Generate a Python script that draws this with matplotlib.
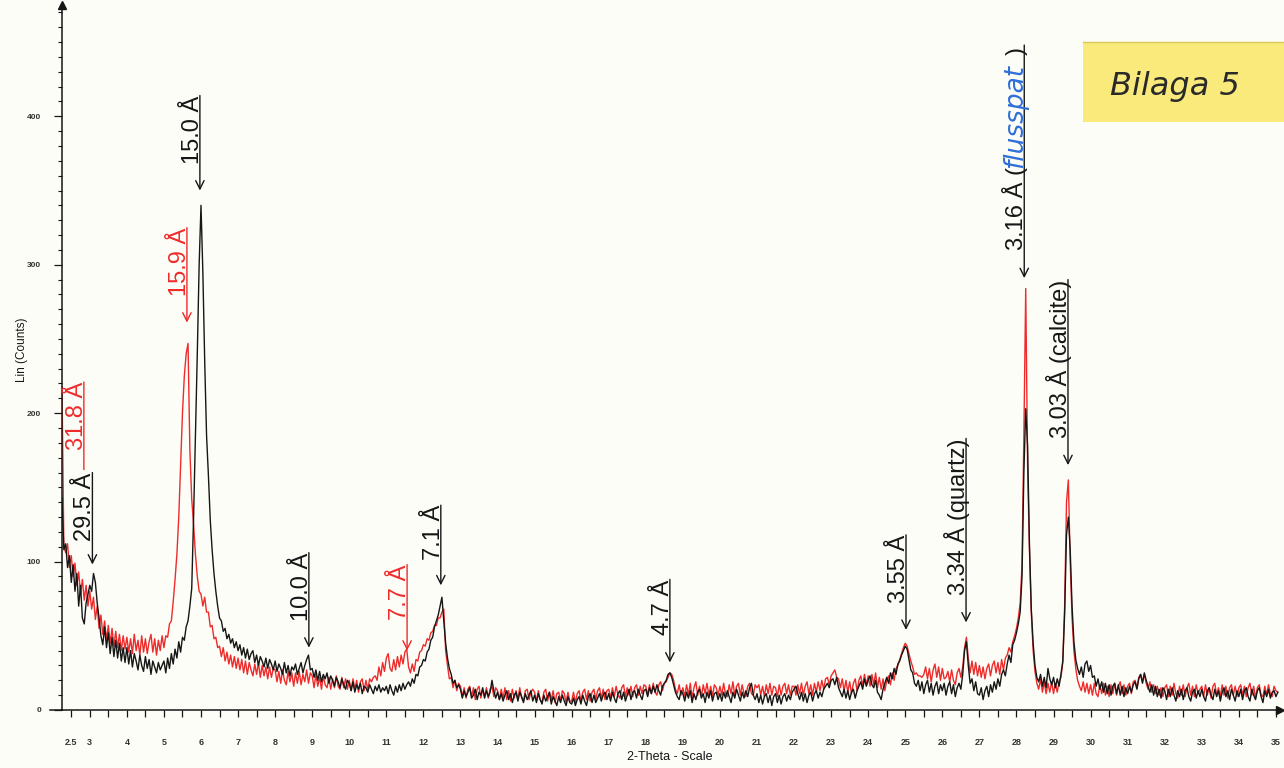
import numpy as np
import matplotlib
matplotlib.use("Agg")
import matplotlib.pyplot as plt
from matplotlib import transforms
from matplotlib.patches import Rectangle
from matplotlib.lines import Line2D
from matplotlib.ticker import FixedLocator

# Step scan: first 2-theta position and step width (degrees)
SCAN_START = 2.25
SCAN_STEP = 0.05

# Intensity (Lin counts), one row per degree of 2-theta
black_counts = [
    143, 108, 112, 96, 104, 86, 98, 80, 92, 70, 84, 62, 58, 72, 78,
    84, 80, 92, 86, 72, 62, 50, 44, 56, 42, 52, 38, 49, 36, 47, 35, 45, 33, 42, 32,
    42, 31, 40, 29, 38, 33, 27, 37, 30, 26, 36, 28, 34, 24, 33, 29, 25, 32, 27, 30,
    33, 25, 35, 28, 38, 31, 41, 35, 46, 39, 49, 47, 56, 60, 70, 82, 130, 185, 240, 300,
    340, 295, 235, 185, 158, 128, 108, 92, 80, 70, 62, 60, 53, 55, 48, 51, 45, 48, 42, 46,
    40, 44, 37, 42, 35, 41, 34, 38, 40, 32, 37, 30, 36, 33, 29, 35, 28, 34, 31, 27,
    33, 26, 31, 28, 24, 32, 25, 30, 23, 29, 27, 31, 24, 28, 32, 25, 30, 34, 37, 27,
    28, 22, 27, 20, 26, 19, 24, 21, 25, 18, 23, 20, 16, 22, 19, 15, 21, 17, 14, 20,
    18, 13, 19, 12, 17, 14, 18, 11, 16, 15, 12, 17, 14, 11, 16, 13, 17, 12, 15, 13,
    16, 11, 17, 13, 10, 16, 12, 17, 13, 18, 14, 17, 19, 16, 21, 18, 24, 23, 29, 30,
    34, 33, 39, 41, 47, 49, 56, 60, 64, 70, 76, 60, 45, 35, 28, 24, 18, 20, 15, 17,
    14, 8, 13, 9, 12, 15, 8, 10, 14, 7, 12, 10, 15, 8, 13, 9, 12, 20, 13, 8,
    12, 7, 11, 6, 10, 13, 7, 11, 5, 10, 12, 6, 12, 9, 5, 11, 7, 10, 13, 6,
    10, 5, 11, 7, 4, 10, 6, 9, 12, 4, 9, 6, 3, 9, 5, 10, 6, 3, 9, 5,
    4, 8, 3, 7, 9, 4, 10, 6, 3, 9, 11, 5, 10, 5, 8, 11, 6, 10, 12, 7,
    11, 6, 12, 8, 5, 11, 13, 7, 12, 6, 10, 14, 7, 12, 13, 8, 14, 10, 7, 13,
    14, 9, 15, 11, 16, 12, 17, 13, 10, 16, 18, 20, 24, 25, 22, 17, 12, 9, 7, 13,
    11, 6, 12, 8, 13, 5, 11, 7, 12, 14, 8, 11, 5, 12, 8, 13, 6, 11, 12, 7,
    11, 6, 12, 8, 13, 9, 5, 12, 8, 14, 10, 6, 12, 8, 13, 9, 15, 18, 10, 7,
    11, 5, 10, 4, 9, 11, 5, 10, 3, 9, 11, 5, 10, 4, 9, 11, 6, 10, 7, 12,
    14, 16, 11, 7, 12, 6, 11, 5, 10, 12, 6, 11, 13, 8, 12, 9, 14, 16, 18, 15,
    20, 21, 17, 22, 15, 12, 9, 14, 8, 13, 7, 12, 14, 8, 13, 16, 19, 14, 21, 16,
    20, 23, 17, 15, 20, 12, 10, 7, 14, 18, 22, 18, 25, 21, 28, 24, 31, 33, 37, 40,
    43, 41, 34, 27, 25, 18, 16, 20, 13, 19, 11, 17, 20, 12, 18, 10, 16, 19, 11, 17,
    13, 18, 10, 16, 19, 11, 17, 9, 15, 18, 14, 24, 40, 46, 30, 18, 21, 13, 19, 11,
    10, 15, 7, 13, 16, 9, 17, 12, 19, 14, 21, 16, 24, 27, 23, 31, 37, 32, 44, 47,
    52, 58, 66, 90, 160, 203, 178, 112, 68, 45, 30, 22, 19, 24, 16, 22, 15, 28, 21, 17,
    22, 15, 21, 16, 24, 33, 65, 118, 130, 108, 70, 46, 34, 28, 24, 29, 22, 31, 33, 26,
    30, 22, 23, 16, 21, 14, 19, 12, 18, 11, 17, 10, 16, 18, 11, 17, 10, 16, 9, 15,
    11, 16, 12, 17, 19, 14, 21, 24, 18, 25, 20, 16, 12, 17, 10, 16, 9, 14, 8, 15,
    13, 7, 14, 9, 15, 10, 6, 13, 9, 14, 7, 13, 15, 9, 6, 12, 14, 8, 13, 9,
    14, 9, 6, 13, 15, 10, 7, 14, 9, 13, 6, 12, 15, 9, 13, 7, 14, 10, 6, 13,
    9, 14, 7, 13, 15, 9, 6, 14, 10, 7, 13, 15, 9, 5, 13, 9, 14, 8, 12, 13,
    9, 12,
]

red_counts = [
    218, 110, 106, 112, 96, 104, 90, 99, 84, 93, 78, 88, 74, 84, 70,
    80, 68, 76, 61, 70, 55, 64, 51, 60, 47, 57, 45, 55, 43, 53, 42, 51, 40, 50, 41,
    49, 39, 48, 38, 51, 40, 47, 37, 50, 39, 48, 38, 46, 51, 39, 48, 37, 47, 40, 50,
    42, 50, 49, 58, 60, 73, 88, 105, 130, 165, 200, 225, 240, 247, 175, 142, 125, 105, 90, 80,
    78, 70, 76, 66, 66, 56, 57, 48, 49, 42, 43, 36, 42, 33, 39, 31, 37, 29, 36, 28,
    35, 27, 34, 25, 33, 24, 32, 27, 23, 31, 24, 32, 22, 30, 23, 29, 21, 29, 22, 28,
    27, 19, 26, 18, 27, 20, 17, 26, 19, 25, 16, 25, 18, 26, 17, 24, 19, 27, 18, 25,
    23, 15, 24, 16, 22, 14, 23, 17, 15, 22, 14, 21, 15, 23, 16, 14, 22, 15, 21, 14,
    20, 13, 21, 14, 20, 12, 19, 21, 13, 20, 14, 21, 19, 22, 23, 20, 29, 23, 32, 26,
    35, 38, 28, 26, 34, 27, 36, 29, 37, 31, 39, 41, 29, 25, 31, 26, 34, 33, 39, 40,
    44, 43, 48, 47, 52, 53, 57, 57, 62, 62, 66, 68, 40, 30, 21, 22, 15, 20, 13, 18,
    16, 9, 15, 8, 14, 16, 9, 15, 7, 14, 16, 8, 14, 9, 15, 8, 14, 16, 9, 15,
    13, 7, 14, 8, 15, 7, 13, 6, 14, 8, 13, 7, 15, 8, 6, 13, 14, 7, 12, 14,
    12, 6, 13, 7, 5, 12, 14, 6, 12, 7, 13, 5, 11, 12, 6, 13, 11, 5, 12, 6,
    6, 12, 5, 11, 13, 6, 12, 14, 7, 13, 6, 12, 14, 7, 13, 15, 8, 14, 7, 13,
    14, 8, 15, 9, 16, 10, 8, 15, 17, 9, 15, 10, 16, 9, 15, 17, 10, 16, 11, 17,
    16, 10, 17, 11, 18, 12, 10, 17, 19, 13, 18, 19, 22, 25, 24, 20, 14, 11, 17, 10,
    15, 9, 17, 10, 18, 8, 15, 19, 10, 16, 9, 17, 11, 18, 10, 16, 9, 17, 15, 10,
    16, 10, 18, 11, 9, 17, 11, 19, 10, 16, 18, 10, 17, 11, 9, 16, 18, 11, 10, 17,
    15, 17, 10, 16, 9, 17, 11, 18, 10, 16, 15, 9, 17, 10, 16, 18, 11, 17, 10, 16,
    16, 10, 17, 11, 18, 10, 16, 19, 11, 17, 10, 18, 12, 19, 13, 20, 14, 21, 22, 17,
    23, 25, 27, 22, 21, 15, 21, 13, 20, 12, 19, 11, 18, 21, 13, 20, 23, 16, 24, 17,
    23, 16, 24, 17, 25, 15, 22, 14, 21, 13, 20, 23, 17, 25, 20, 28, 30, 34, 38, 42,
    45, 43, 38, 33, 29, 24, 25, 23, 23, 22, 24, 29, 21, 28, 19, 27, 31, 22, 29, 20,
    28, 21, 22, 26, 19, 27, 20, 17, 25, 28, 22, 29, 42, 49, 35, 25, 33, 24, 32, 23,
    30, 22, 29, 21, 28, 31, 23, 30, 33, 25, 32, 24, 34, 27, 35, 37, 42, 39, 46, 50,
    55, 62, 72, 98, 185, 284, 165, 108, 66, 40, 26, 18, 14, 21, 12, 19, 11, 18, 12, 19,
    11, 18, 12, 19, 22, 32, 70, 140, 155, 100, 62, 40, 28, 20, 16, 13, 19, 12, 18, 11,
    17, 10, 18, 11, 9, 17, 11, 18, 10, 16, 9, 17, 11, 18, 10, 16, 19, 11, 17, 10,
    16, 18, 11, 19, 20, 15, 22, 24, 19, 24, 18, 14, 19, 12, 17, 11, 16, 10, 15, 9,
    15, 17, 9, 16, 10, 18, 11, 8, 16, 10, 17, 9, 15, 18, 10, 16, 9, 17, 11, 14,
    16, 9, 17, 10, 15, 8, 16, 18, 10, 15, 9, 17, 10, 16, 8, 15, 17, 10, 16, 9,
    15, 17, 10, 16, 9, 15, 18, 10, 16, 8, 15, 17, 10, 9, 16, 10, 17, 11, 9, 16,
    13, 12,
]

ANG = "\u00c5"

# Peak markers: 2-theta, counts at top of label line, counts at arrow tip
peak_two_theta = [2.84, 3.07, 5.62, 5.97, 8.91, 11.56, 12.47, 18.65, 25.02, 26.64, 28.21, 29.39]
peak_line_top = [221, 160, 325, 414, 106, 98, 138, 88, 118, 183, 448, 290]
peak_arrow_tip = [162, 98, 261, 350, 42, 40, 84, 32, 54, 59, 291, 165]
peak_labels = ["31.8 " + ANG, "29.5 " + ANG, "15.9 " + ANG, "15.0 " + ANG, "10.0 " + ANG,
               "7.7 " + ANG, "7.1 " + ANG, "4.7 " + ANG, "3.55 " + ANG,
               "3.34 " + ANG + " (quartz)", "3.16 " + ANG + " (",
               "3.03 " + ANG + " (calcite)"]
peak_series = ["red", "black", "red", "black", "black", "red", "black",
               "black", "black", "black", "black", "black"]

x_tick_values = [2.5] + list(range(3, 36))
x_tick_labels = ["2.5"] + [str(v) for v in range(3, 36)]
y_tick_values = [0, 100, 200, 300, 400]

W, H = 1284, 768
PAPER = "#fdfdf8"
INK = "#161616"
RED = "#ee2b2b"
colors = {"black": INK, "red": RED}

plt.rcParams["font.family"] = ["Liberation Sans", "DejaVu Sans"]

fig = plt.figure(figsize=(W / 100, H / 100), dpi=100, facecolor=PAPER)
ax = fig.add_axes([62 / W, 1 - 710 / H, (1280 - 62) / W, (710 - 5) / H])
ax.set_facecolor("none")
ax.set_xlim(2.25, 35.11)
ax.set_ylim(0, 475)

tt_black = SCAN_START + SCAN_STEP * np.arange(len(black_counts))
tt_red = SCAN_START + SCAN_STEP * np.arange(len(red_counts))
ax.plot(tt_red, red_counts, color=RED, lw=1.0, zorder=2)
ax.plot(tt_black, black_counts, color=INK, lw=1.0, zorder=3)

# axes: only left and bottom, ending in small arrow heads
for side in ("top", "right"):
    ax.spines[side].set_visible(False)
for side in ("left", "bottom"):
    ax.spines[side].set_color(INK)
    ax.spines[side].set_linewidth(1.1)
ax.plot([1], [0], marker=">", ms=6, color=INK, transform=ax.transAxes, clip_on=False)
ax.plot([0], [1], marker="^", ms=6, color=INK, transform=ax.transAxes, clip_on=False)
fig.add_artist(Line2D([50 / W, 62 / W], [1 - 710 / H, 1 - 710 / H], color=INK, lw=1.1))

ax.xaxis.set_major_locator(FixedLocator(x_tick_values))
ax.set_xticklabels(x_tick_labels)
ax.xaxis.set_minor_locator(FixedLocator([v + 0.5 for v in range(3, 35)]))
ax.tick_params(axis="x", which="both", direction="out", length=5, width=0.9,
               color=INK, pad=15)
ax.tick_params(axis="x", which="major", labelsize=6.5)
ax.yaxis.set_major_locator(FixedLocator(y_tick_values))
ax.yaxis.set_minor_locator(FixedLocator([v for v in range(10, 480, 10) if v % 100]))
ax.tick_params(axis="y", which="major", direction="out", length=6, width=0.9,
               color=INK, pad=9, labelsize=6)
ax.tick_params(axis="y", which="minor", direction="out", length=3, width=0.8, color=INK)
for lab in ax.get_xticklabels() + ax.get_yticklabels():
    lab.set_fontweight("bold")
    lab.set_color("#333333")

fig.text(670 / W, 1 - 757 / H, "2-Theta - Scale", ha="center", va="center",
         fontsize=9, color=INK)
fig.text(22 / W, 1 - 350 / H, "Lin (Counts)", ha="center", va="center",
         rotation=90, fontsize=8.5, color=INK)

# peak labels: vertical text, underline running down into an arrow
text_shift = transforms.offset_copy(ax.transData, fig=fig, x=4, y=0, units="dots")
for tt, top, tip, label, series in zip(peak_two_theta, peak_line_top, peak_arrow_tip,
                                       peak_labels, peak_series):
    col = colors[series]
    style = "-" if label.startswith("31.8") else "->,head_length=0.6,head_width=0.3"
    ax.annotate("", xy=(tt, tip), xytext=(tt, top),
                arrowprops=dict(arrowstyle=style, color=col, lw=1.0,
                                shrinkA=0, shrinkB=0, mutation_scale=10))
    if label.endswith("("):
        ax.text(tt, 310, label, rotation=90, ha="right", va="bottom", fontsize=17,
                color=col, transform=text_shift)
        ax.text(tt, 365, "flusspat", rotation=90, ha="right", va="bottom",
                fontsize=19, style="italic", family=["DejaVu Sans"],
                color="#2f6fd6", transform=text_shift)
        ax.text(tt, 441, ")", rotation=90, ha="right", va="bottom", fontsize=17,
                color=col, transform=text_shift)
    else:
        ax.text(tt, top, label, rotation=90, ha="right", va="top", fontsize=17,
                color=col, transform=text_shift)

# yellow note in the upper right corner
fig.add_artist(Rectangle((1083 / W, 1 - 122 / H), (W - 1083) / W, 80 / H,
                         transform=fig.transFigure, facecolor="#faea7c",
                         edgecolor="none"))
fig.add_artist(Line2D([1083 / W, 1], [1 - 42 / H, 1 - 42 / H], color="#d9c85a", lw=1.0))
fig.text(1175 / W, 1 - 86 / H, "Bilaga 5", ha="center", va="center", fontsize=23,
         style="italic", family=["DejaVu Sans"], color="#2a2a2a")

fig.savefig("out.png", dpi=100, facecolor=PAPER)
